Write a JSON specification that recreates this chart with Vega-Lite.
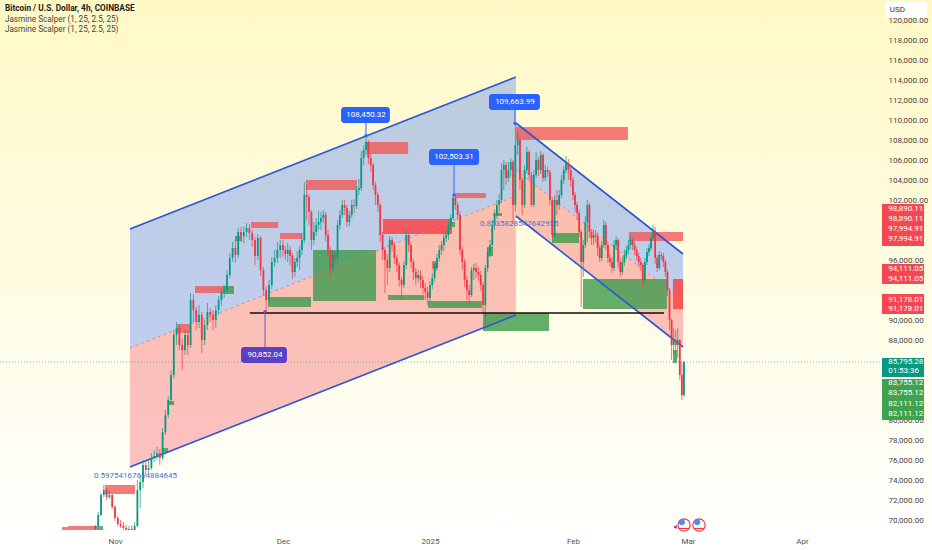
{
  "$schema": "https://vega.github.io/schema/vega-lite/v6.json",
  "width": 932,
  "height": 550,
  "padding": 0,
  "autosize": {"type": "none"},
  "view": {
    "stroke": null,
    "fill": {"gradient": "linear", "x1": 0, "y1": 0, "x2": 0, "y2": 1, "stops": [{"offset": 0, "color": "#fff9c6"}, {"offset": 1, "color": "#ffffff"}]}
  },
  "config": {"font": "Roboto", "axis": {"labelOverlap": false}},
  "resolve": {"scale": {"color": "independent"}},
  "datasets": {
    "candles": [
{"t":"2024-10-28T12:00","o":69100,"h":69500,"l":69000,"c":69400},
{"t":"2024-10-29T00:00","o":69400,"h":70800,"l":69300,"c":70500},
{"t":"2024-10-29T12:00","o":70500,"h":72700,"l":70400,"c":72500},
{"t":"2024-10-30T00:00","o":72500,"h":73500,"l":72300,"c":73000},
{"t":"2024-10-30T12:00","o":73000,"h":73200,"l":72000,"c":72300},
{"t":"2024-10-31T00:00","o":72300,"h":72900,"l":72100,"c":72500},
{"t":"2024-10-31T12:00","o":72500,"h":72600,"l":71100,"c":71300},
{"t":"2024-11-01T00:00","o":71300,"h":71500,"l":69900,"c":70200},
{"t":"2024-11-01T12:00","o":70200,"h":70400,"l":69400,"c":69600},
{"t":"2024-11-02T00:00","o":69600,"h":70000,"l":69200,"c":69400},
{"t":"2024-11-02T12:00","o":69400,"h":69800,"l":69000,"c":69200},
{"t":"2024-11-03T00:00","o":69200,"h":69500,"l":69000,"c":69000},
{"t":"2024-11-03T12:00","o":69000,"h":69400,"l":69000,"c":69100},
{"t":"2024-11-04T00:00","o":69100,"h":69500,"l":69000,"c":69000},
{"t":"2024-11-04T12:00","o":69000,"h":69800,"l":69000,"c":69400},
{"t":"2024-11-05T00:00","o":69400,"h":74000,"l":69300,"c":73000},
{"t":"2024-11-05T12:00","o":73000,"h":74500,"l":71200,"c":73800},
{"t":"2024-11-06T00:00","o":73800,"h":76000,"l":73200,"c":75500},
{"t":"2024-11-06T12:00","o":75500,"h":75900,"l":74500,"c":75000},
{"t":"2024-11-07T00:00","o":75000,"h":76100,"l":74700,"c":75200},
{"t":"2024-11-07T12:00","o":75200,"h":76700,"l":75000,"c":76200},
{"t":"2024-11-08T00:00","o":76200,"h":77000,"l":75800,"c":76400},
{"t":"2024-11-08T12:00","o":76400,"h":77300,"l":76000,"c":76700},
{"t":"2024-11-09T00:00","o":76700,"h":77100,"l":75500,"c":76200},
{"t":"2024-11-09T12:00","o":76200,"h":79200,"l":76000,"c":78800},
{"t":"2024-11-10T00:00","o":78800,"h":81000,"l":78500,"c":80500},
{"t":"2024-11-10T12:00","o":80500,"h":82400,"l":80200,"c":82000},
{"t":"2024-11-11T00:00","o":82000,"h":85000,"l":81600,"c":84500},
{"t":"2024-11-11T12:00","o":84500,"h":89000,"l":84200,"c":88500},
{"t":"2024-11-12T00:00","o":88500,"h":89800,"l":87500,"c":89200},
{"t":"2024-11-12T12:00","o":89200,"h":89600,"l":87000,"c":87500},
{"t":"2024-11-13T00:00","o":87500,"h":88200,"l":85000,"c":87000},
{"t":"2024-11-13T12:00","o":87000,"h":89000,"l":86500,"c":88500},
{"t":"2024-11-14T00:00","o":88500,"h":88900,"l":86500,"c":87500},
{"t":"2024-11-14T12:00","o":87500,"h":92700,"l":87200,"c":92000},
{"t":"2024-11-15T00:00","o":92000,"h":92600,"l":89800,"c":91000},
{"t":"2024-11-15T12:00","o":91000,"h":91300,"l":89000,"c":89800},
{"t":"2024-11-16T00:00","o":89800,"h":91500,"l":89200,"c":90500},
{"t":"2024-11-16T12:00","o":90500,"h":90800,"l":86700,"c":88000},
{"t":"2024-11-17T00:00","o":88000,"h":90000,"l":87500,"c":89500},
{"t":"2024-11-17T12:00","o":89500,"h":91700,"l":89000,"c":90800},
{"t":"2024-11-18T00:00","o":90800,"h":91200,"l":89800,"c":90500},
{"t":"2024-11-18T12:00","o":90500,"h":91000,"l":89000,"c":90000},
{"t":"2024-11-19T00:00","o":90000,"h":91500,"l":89200,"c":91000},
{"t":"2024-11-19T12:00","o":91000,"h":92400,"l":90500,"c":92000},
{"t":"2024-11-20T00:00","o":92000,"h":93200,"l":91400,"c":92800},
{"t":"2024-11-20T12:00","o":92800,"h":93500,"l":92200,"c":93000},
{"t":"2024-11-21T00:00","o":93000,"h":95000,"l":92700,"c":94500},
{"t":"2024-11-21T12:00","o":94500,"h":96700,"l":94200,"c":96200},
{"t":"2024-11-22T00:00","o":96200,"h":97800,"l":95800,"c":97200},
{"t":"2024-11-22T12:00","o":97200,"h":98000,"l":95700,"c":96500},
{"t":"2024-11-23T00:00","o":96500,"h":99200,"l":96200,"c":98800},
{"t":"2024-11-23T12:00","o":98800,"h":99300,"l":97800,"c":98400},
{"t":"2024-11-24T00:00","o":98400,"h":99400,"l":97700,"c":98800},
{"t":"2024-11-24T12:00","o":98800,"h":99700,"l":98300,"c":99200},
{"t":"2024-11-25T00:00","o":99200,"h":99600,"l":98000,"c":98700},
{"t":"2024-11-25T12:00","o":98700,"h":99000,"l":97300,"c":98000},
{"t":"2024-11-26T00:00","o":98000,"h":98300,"l":95500,"c":96400},
{"t":"2024-11-26T12:00","o":96400,"h":98600,"l":96000,"c":98200},
{"t":"2024-11-27T00:00","o":98200,"h":98400,"l":94400,"c":95000},
{"t":"2024-11-27T12:00","o":95000,"h":95300,"l":92400,"c":93000},
{"t":"2024-11-28T00:00","o":93000,"h":93400,"l":90852,"c":92000},
{"t":"2024-11-28T12:00","o":92000,"h":94000,"l":91500,"c":93500},
{"t":"2024-11-29T00:00","o":93500,"h":96300,"l":93100,"c":95800},
{"t":"2024-11-29T12:00","o":95800,"h":97000,"l":95300,"c":96200},
{"t":"2024-11-30T00:00","o":96200,"h":97800,"l":95700,"c":97000},
{"t":"2024-11-30T12:00","o":97000,"h":98000,"l":96200,"c":97500},
{"t":"2024-12-01T00:00","o":97500,"h":98000,"l":96300,"c":97000},
{"t":"2024-12-01T12:00","o":97000,"h":97400,"l":96000,"c":96600},
{"t":"2024-12-02T00:00","o":96600,"h":97700,"l":95800,"c":97000},
{"t":"2024-12-02T12:00","o":97000,"h":97400,"l":95500,"c":96400},
{"t":"2024-12-03T00:00","o":96400,"h":96700,"l":94100,"c":94800},
{"t":"2024-12-03T12:00","o":94800,"h":96200,"l":94300,"c":95800},
{"t":"2024-12-04T00:00","o":95800,"h":96900,"l":95300,"c":96200},
{"t":"2024-12-04T12:00","o":96200,"h":97400,"l":95000,"c":97000},
{"t":"2024-12-05T00:00","o":97000,"h":98700,"l":96500,"c":98000},
{"t":"2024-12-05T12:00","o":98000,"h":103800,"l":97700,"c":102500},
{"t":"2024-12-06T00:00","o":102500,"h":103600,"l":100000,"c":102300},
{"t":"2024-12-06T12:00","o":102300,"h":102600,"l":99500,"c":100800},
{"t":"2024-12-07T00:00","o":100800,"h":101000,"l":97000,"c":98000},
{"t":"2024-12-07T12:00","o":98000,"h":99800,"l":97500,"c":98800},
{"t":"2024-12-08T00:00","o":98800,"h":100200,"l":98400,"c":99500},
{"t":"2024-12-08T12:00","o":99500,"h":100900,"l":99000,"c":99800},
{"t":"2024-12-09T00:00","o":99800,"h":100800,"l":99000,"c":100200},
{"t":"2024-12-09T12:00","o":100200,"h":101000,"l":99700,"c":100500},
{"t":"2024-12-10T00:00","o":100500,"h":100800,"l":97900,"c":98500},
{"t":"2024-12-10T12:00","o":98500,"h":99000,"l":96300,"c":97000},
{"t":"2024-12-11T00:00","o":97000,"h":97300,"l":94300,"c":95200},
{"t":"2024-12-11T12:00","o":95200,"h":97000,"l":94700,"c":96500},
{"t":"2024-12-12T00:00","o":96500,"h":96900,"l":95500,"c":96200},
{"t":"2024-12-12T12:00","o":96200,"h":100000,"l":95900,"c":99500},
{"t":"2024-12-13T00:00","o":99500,"h":101000,"l":99000,"c":100500},
{"t":"2024-12-13T12:00","o":100500,"h":102000,"l":100200,"c":101500},
{"t":"2024-12-14T00:00","o":101500,"h":102000,"l":100500,"c":101200},
{"t":"2024-12-14T12:00","o":101200,"h":101500,"l":99300,"c":99800},
{"t":"2024-12-15T00:00","o":99800,"h":100900,"l":99400,"c":100500},
{"t":"2024-12-15T12:00","o":100500,"h":102000,"l":100200,"c":101500},
{"t":"2024-12-16T00:00","o":101500,"h":102100,"l":100700,"c":101400},
{"t":"2024-12-16T12:00","o":101400,"h":103400,"l":101100,"c":103000},
{"t":"2024-12-17T00:00","o":103000,"h":104100,"l":102500,"c":103200},
{"t":"2024-12-17T12:00","o":103200,"h":106900,"l":102900,"c":106200},
{"t":"2024-12-18T00:00","o":106200,"h":107500,"l":105500,"c":107000},
{"t":"2024-12-18T12:00","o":107000,"h":108450,"l":106500,"c":107800},
{"t":"2024-12-19T00:00","o":107800,"h":108000,"l":105600,"c":106200},
{"t":"2024-12-19T12:00","o":106200,"h":106600,"l":104800,"c":105500},
{"t":"2024-12-20T00:00","o":105500,"h":105700,"l":103000,"c":103500},
{"t":"2024-12-20T12:00","o":103500,"h":103800,"l":101500,"c":102500},
{"t":"2024-12-21T00:00","o":102500,"h":102800,"l":100800,"c":101500},
{"t":"2024-12-21T12:00","o":101500,"h":101700,"l":97800,"c":98500},
{"t":"2024-12-22T00:00","o":98500,"h":98800,"l":96000,"c":97000},
{"t":"2024-12-22T12:00","o":97000,"h":97300,"l":92700,"c":96000},
{"t":"2024-12-23T00:00","o":96000,"h":96600,"l":93500,"c":95200},
{"t":"2024-12-23T12:00","o":95200,"h":98400,"l":94800,"c":98000},
{"t":"2024-12-24T00:00","o":98000,"h":98300,"l":96800,"c":97500},
{"t":"2024-12-24T12:00","o":97500,"h":97800,"l":95600,"c":96200},
{"t":"2024-12-25T00:00","o":96200,"h":96500,"l":94800,"c":95500},
{"t":"2024-12-25T12:00","o":95500,"h":95800,"l":93300,"c":94000},
{"t":"2024-12-26T00:00","o":94000,"h":94300,"l":92000,"c":93500},
{"t":"2024-12-26T12:00","o":93500,"h":95900,"l":93200,"c":95500},
{"t":"2024-12-27T00:00","o":95500,"h":99000,"l":95100,"c":98500},
{"t":"2024-12-27T12:00","o":98500,"h":98900,"l":96800,"c":97500},
{"t":"2024-12-28T00:00","o":97500,"h":97800,"l":95200,"c":95800},
{"t":"2024-12-28T12:00","o":95800,"h":96100,"l":94000,"c":94800},
{"t":"2024-12-29T00:00","o":94800,"h":95200,"l":93500,"c":94200},
{"t":"2024-12-29T12:00","o":94200,"h":95000,"l":93700,"c":94500},
{"t":"2024-12-30T00:00","o":94500,"h":95000,"l":93200,"c":94000},
{"t":"2024-12-30T12:00","o":94000,"h":94400,"l":92600,"c":93200},
{"t":"2024-12-31T00:00","o":93200,"h":93700,"l":92000,"c":92800},
{"t":"2024-12-31T12:00","o":92800,"h":93300,"l":91500,"c":92200},
{"t":"2025-01-01T00:00","o":92200,"h":93900,"l":91800,"c":93500},
{"t":"2025-01-01T12:00","o":93500,"h":94700,"l":93100,"c":94200},
{"t":"2025-01-02T00:00","o":94200,"h":95600,"l":93800,"c":95200},
{"t":"2025-01-02T12:00","o":95200,"h":96600,"l":94900,"c":96200},
{"t":"2025-01-03T00:00","o":96200,"h":97500,"l":95800,"c":97000},
{"t":"2025-01-03T12:00","o":97000,"h":97900,"l":96500,"c":97500},
{"t":"2025-01-04T00:00","o":97500,"h":98800,"l":96900,"c":98200},
{"t":"2025-01-04T12:00","o":98200,"h":99000,"l":97800,"c":98500},
{"t":"2025-01-05T00:00","o":98500,"h":99800,"l":98000,"c":99400},
{"t":"2025-01-05T12:00","o":99400,"h":100600,"l":99000,"c":100200},
{"t":"2025-01-06T00:00","o":100200,"h":102503,"l":100000,"c":102200},
{"t":"2025-01-06T12:00","o":102200,"h":102400,"l":101000,"c":101500},
{"t":"2025-01-07T00:00","o":101500,"h":101800,"l":100000,"c":100500},
{"t":"2025-01-07T12:00","o":100500,"h":100800,"l":96500,"c":97000},
{"t":"2025-01-08T00:00","o":97000,"h":97300,"l":95000,"c":95800},
{"t":"2025-01-08T12:00","o":95800,"h":96100,"l":93300,"c":94000},
{"t":"2025-01-09T00:00","o":94000,"h":94400,"l":92000,"c":93000},
{"t":"2025-01-09T12:00","o":93000,"h":93500,"l":91500,"c":92500},
{"t":"2025-01-10T00:00","o":92500,"h":95300,"l":92300,"c":95000},
{"t":"2025-01-10T12:00","o":95000,"h":95600,"l":94000,"c":95200},
{"t":"2025-01-11T00:00","o":95200,"h":95700,"l":94200,"c":94800},
{"t":"2025-01-11T12:00","o":94800,"h":95300,"l":93900,"c":94500},
{"t":"2025-01-12T00:00","o":94500,"h":94900,"l":92900,"c":93500},
{"t":"2025-01-12T12:00","o":93500,"h":93800,"l":90700,"c":91500},
{"t":"2025-01-13T00:00","o":91500,"h":95500,"l":89500,"c":95200},
{"t":"2025-01-13T12:00","o":95200,"h":97200,"l":94800,"c":96800},
{"t":"2025-01-14T00:00","o":96800,"h":98000,"l":96300,"c":97500},
{"t":"2025-01-14T12:00","o":97500,"h":100000,"l":97200,"c":99500},
{"t":"2025-01-15T00:00","o":99500,"h":101000,"l":99000,"c":100500},
{"t":"2025-01-15T12:00","o":100500,"h":102000,"l":100100,"c":101500},
{"t":"2025-01-16T00:00","o":101500,"h":102600,"l":100800,"c":102000},
{"t":"2025-01-16T12:00","o":102000,"h":105700,"l":101700,"c":105000},
{"t":"2025-01-17T00:00","o":105000,"h":106000,"l":103000,"c":105500},
{"t":"2025-01-17T12:00","o":105500,"h":105800,"l":103500,"c":104200},
{"t":"2025-01-18T00:00","o":104200,"h":105800,"l":103800,"c":105000},
{"t":"2025-01-18T12:00","o":105000,"h":106200,"l":104300,"c":105800},
{"t":"2025-01-19T00:00","o":105800,"h":106000,"l":99600,"c":101500},
{"t":"2025-01-19T12:00","o":101500,"h":109664,"l":100900,"c":107500},
{"t":"2025-01-20T00:00","o":107500,"h":109000,"l":106500,"c":108000},
{"t":"2025-01-20T12:00","o":108000,"h":108300,"l":103000,"c":104000},
{"t":"2025-01-21T00:00","o":104000,"h":104300,"l":100500,"c":101500},
{"t":"2025-01-21T12:00","o":101500,"h":105500,"l":101200,"c":105000},
{"t":"2025-01-22T00:00","o":105000,"h":107300,"l":104600,"c":106800},
{"t":"2025-01-22T12:00","o":106800,"h":107000,"l":103900,"c":104500},
{"t":"2025-01-23T00:00","o":104500,"h":104800,"l":101300,"c":101500},
{"t":"2025-01-23T12:00","o":101500,"h":105000,"l":101300,"c":104500},
{"t":"2025-01-24T00:00","o":104500,"h":106800,"l":104200,"c":106000},
{"t":"2025-01-24T12:00","o":106000,"h":106300,"l":104400,"c":105000},
{"t":"2025-01-25T00:00","o":105000,"h":106900,"l":104600,"c":106500},
{"t":"2025-01-25T12:00","o":106500,"h":106700,"l":103800,"c":104200},
{"t":"2025-01-26T00:00","o":104200,"h":105500,"l":103900,"c":105000},
{"t":"2025-01-26T12:00","o":105000,"h":105300,"l":104300,"c":104800},
{"t":"2025-01-27T00:00","o":104800,"h":105000,"l":101500,"c":102000},
{"t":"2025-01-27T12:00","o":102000,"h":102300,"l":98300,"c":98500},
{"t":"2025-01-28T00:00","o":98500,"h":102500,"l":98200,"c":102000},
{"t":"2025-01-28T12:00","o":102000,"h":103000,"l":100500,"c":101500},
{"t":"2025-01-29T00:00","o":101500,"h":103000,"l":101000,"c":102500},
{"t":"2025-01-29T12:00","o":102500,"h":104500,"l":102200,"c":104000},
{"t":"2025-01-30T00:00","o":104000,"h":105400,"l":103600,"c":105000},
{"t":"2025-01-30T12:00","o":105000,"h":106400,"l":104700,"c":105700},
{"t":"2025-01-31T00:00","o":105700,"h":106100,"l":104000,"c":105000},
{"t":"2025-01-31T12:00","o":105000,"h":105300,"l":103300,"c":104000},
{"t":"2025-02-01T00:00","o":104000,"h":104300,"l":102000,"c":102500},
{"t":"2025-02-01T12:00","o":102500,"h":102800,"l":100800,"c":101500},
{"t":"2025-02-02T00:00","o":101500,"h":101800,"l":100000,"c":100700},
{"t":"2025-02-02T12:00","o":100700,"h":101000,"l":98300,"c":98800},
{"t":"2025-02-03T00:00","o":98800,"h":99000,"l":91300,"c":95800},
{"t":"2025-02-03T12:00","o":95800,"h":98000,"l":94300,"c":97500},
{"t":"2025-02-04T00:00","o":97500,"h":100400,"l":97200,"c":99800},
{"t":"2025-02-04T12:00","o":99800,"h":102000,"l":97800,"c":101500},
{"t":"2025-02-05T00:00","o":101500,"h":101700,"l":98200,"c":98800},
{"t":"2025-02-05T12:00","o":98800,"h":99100,"l":97500,"c":98200},
{"t":"2025-02-06T00:00","o":98200,"h":99000,"l":97500,"c":98500},
{"t":"2025-02-06T12:00","o":98500,"h":99000,"l":97700,"c":98400},
{"t":"2025-02-07T00:00","o":98400,"h":98700,"l":96400,"c":97200},
{"t":"2025-02-07T12:00","o":97200,"h":97500,"l":95800,"c":96200},
{"t":"2025-02-08T00:00","o":96200,"h":97900,"l":95900,"c":97500},
{"t":"2025-02-08T12:00","o":97500,"h":100000,"l":97200,"c":99500},
{"t":"2025-02-09T00:00","o":99500,"h":99800,"l":97000,"c":97500},
{"t":"2025-02-09T12:00","o":97500,"h":97800,"l":95700,"c":96200},
{"t":"2025-02-10T00:00","o":96200,"h":96600,"l":95400,"c":95800},
{"t":"2025-02-10T12:00","o":95800,"h":96200,"l":94700,"c":95200},
{"t":"2025-02-11T00:00","o":95200,"h":98000,"l":94900,"c":97500},
{"t":"2025-02-11T12:00","o":97500,"h":98400,"l":97000,"c":98000},
{"t":"2025-02-12T00:00","o":98000,"h":98200,"l":95200,"c":95800},
{"t":"2025-02-12T12:00","o":95800,"h":96100,"l":94300,"c":94800},
{"t":"2025-02-13T00:00","o":94800,"h":96300,"l":94500,"c":95800},
{"t":"2025-02-13T12:00","o":95800,"h":97000,"l":95400,"c":96500},
{"t":"2025-02-14T00:00","o":96500,"h":97400,"l":96100,"c":97000},
{"t":"2025-02-14T12:00","o":97000,"h":98000,"l":96600,"c":97500},
{"t":"2025-02-15T00:00","o":97500,"h":98400,"l":97100,"c":98000},
{"t":"2025-02-15T12:00","o":98000,"h":98200,"l":97000,"c":97500},
{"t":"2025-02-16T00:00","o":97500,"h":97800,"l":96500,"c":97000},
{"t":"2025-02-16T12:00","o":97000,"h":97300,"l":95900,"c":96400},
{"t":"2025-02-17T00:00","o":96400,"h":96700,"l":95300,"c":95800},
{"t":"2025-02-17T12:00","o":95800,"h":96200,"l":94900,"c":95500},
{"t":"2025-02-18T00:00","o":95500,"h":95700,"l":93300,"c":94000},
{"t":"2025-02-18T12:00","o":94000,"h":96200,"l":93700,"c":95800},
{"t":"2025-02-19T00:00","o":95800,"h":97200,"l":95500,"c":96800},
{"t":"2025-02-19T12:00","o":96800,"h":97600,"l":96400,"c":97200},
{"t":"2025-02-20T00:00","o":97200,"h":98600,"l":96900,"c":98200},
{"t":"2025-02-20T12:00","o":98200,"h":99500,"l":97900,"c":98800},
{"t":"2025-02-21T00:00","o":98800,"h":99300,"l":95600,"c":96200},
{"t":"2025-02-21T12:00","o":96200,"h":96500,"l":94800,"c":95200},
{"t":"2025-02-22T00:00","o":95200,"h":96900,"l":95000,"c":96500},
{"t":"2025-02-22T12:00","o":96500,"h":96800,"l":96000,"c":96400},
{"t":"2025-02-23T00:00","o":96400,"h":96700,"l":95300,"c":95800},
{"t":"2025-02-23T12:00","o":95800,"h":96000,"l":94300,"c":94800},
{"t":"2025-02-24T00:00","o":94800,"h":95000,"l":92400,"c":93000},
{"t":"2025-02-24T12:00","o":93000,"h":93200,"l":89000,"c":90000},
{"t":"2025-02-25T00:00","o":90000,"h":90100,"l":86000,"c":87500},
{"t":"2025-02-25T12:00","o":87500,"h":89200,"l":86500,"c":88000},
{"t":"2025-02-26T00:00","o":88000,"h":89000,"l":86000,"c":87500},
{"t":"2025-02-26T12:00","o":87500,"h":89200,"l":86200,"c":88000},
{"t":"2025-02-27T00:00","o":88000,"h":88100,"l":84000,"c":84500},
{"t":"2025-02-27T12:00","o":84500,"h":85800,"l":82000,"c":82500},
{"t":"2025-02-28T00:00","o":82500,"h":85900,"l":82300,"c":85795}
    ],
    "zones": [
{"kind":"red","t1":"2024-10-22T13:00","t2":"2024-10-23T15:00","p1":69300,"p2":69000},
{"kind":"red","t1":"2024-10-23T15:00","t2":"2024-10-28T19:00","p1":69400,"p2":69000},
{"kind":"red","t1":"2024-10-30T05:00","t2":"2024-11-04T14:00","p1":73500,"p2":72600},
{"kind":"red","t1":"2024-11-12T02:00","t2":"2024-11-14T09:00","p1":89600,"p2":88700},
{"kind":"red","t1":"2024-11-15T07:00","t2":"2024-11-20T07:00","p1":93400,"p2":92700},
{"kind":"red","t1":"2024-11-25T07:00","t2":"2024-11-30T03:00","p1":99800,"p2":99200},
{"kind":"red","t1":"2024-11-30T11:00","t2":"2024-12-05T00:00","p1":98700,"p2":98100},
{"kind":"red","t1":"2024-12-05T20:00","t2":"2024-12-16T14:00","p1":104000,"p2":103000},
{"kind":"red","t1":"2024-12-18T17:00","t2":"2024-12-27T09:00","p1":107800,"p2":106600},
{"kind":"bright","t1":"2024-12-22T02:00","t2":"2025-01-05T18:00","p1":100100,"p2":98600},
{"kind":"red","t1":"2025-01-06T10:00","t2":"2025-01-13T03:00","p1":102700,"p2":102200},
{"kind":"red","t1":"2025-01-19T15:00","t2":"2025-02-14T09:00","p1":109300,"p2":108000},
{"kind":"red","t1":"2025-02-14T15:00","t2":"2025-02-27T19:00","p1":98800,"p2":97900},
{"kind":"bright","t1":"2025-02-25T08:00","t2":"2025-02-27T19:00","p1":94100,"p2":91100},
{"kind":"red","t1":"2025-01-01T10:00","t2":"2025-01-02T12:00","p1":95900,"p2":95100},
{"kind":"red","t1":"2025-01-14T16:00","t2":"2025-01-15T12:00","p1":100700,"p2":100400},
{"kind":"green","t1":"2024-10-28T19:00","t2":"2024-10-29T21:00","p1":69400,"p2":69000},
{"kind":"green","t1":"2024-11-10T11:00","t2":"2024-11-11T13:00","p1":81900,"p2":81500},
{"kind":"green","t1":"2024-11-09T09:00","t2":"2024-11-10T11:00","p1":77200,"p2":76800},
{"kind":"green","t1":"2024-11-20T07:00","t2":"2024-11-22T06:00","p1":93400,"p2":92600},
{"kind":"green","t1":"2024-11-22T10:00","t2":"2024-11-23T16:00","p1":98400,"p2":97900},
{"kind":"green","t1":"2024-11-28T08:00","t2":"2024-12-06T22:00","p1":92300,"p2":91300},
{"kind":"green","t1":"2024-12-07T08:00","t2":"2024-12-20T15:00","p1":97000,"p2":91900},
{"kind":"green","t1":"2024-12-23T03:00","t2":"2024-12-30T18:00","p1":92500,"p2":92000},
{"kind":"green","t1":"2024-12-31T14:00","t2":"2025-01-12T06:00","p1":91900,"p2":91200},
{"kind":"green","t1":"2025-01-12T12:00","t2":"2025-01-26T19:00","p1":90700,"p2":88900},
{"kind":"green","t1":"2025-01-05T18:00","t2":"2025-01-06T10:00","p1":99800,"p2":99300},
{"kind":"green","t1":"2025-01-13T09:00","t2":"2025-01-14T16:00","p1":97300,"p2":96400},
{"kind":"green","t1":"2025-01-27T11:00","t2":"2025-02-02T11:00","p1":98700,"p2":97700},
{"kind":"green","t1":"2025-02-03T10:00","t2":"2025-02-23T21:00","p1":94100,"p2":91100},
{"kind":"green","t1":"2025-01-15T12:00","t2":"2025-01-16T14:00","p1":100700,"p2":100400},
{"kind":"green","t1":"2025-02-25T08:00","t2":"2025-02-26T08:00","p1":87000,"p2":85700},
{"kind":"green","t1":"2025-01-01T16:00","t2":"2025-01-02T18:00","p1":95700,"p2":95200}
    ],
    "channels": [
{"ch":"upA","kind":"blue","t":"2024-11-03T16:00","p1":99100,"p2":87200},
{"ch":"upA","kind":"blue","t":"2025-01-19T15:00","p1":114300,"p2":102400},
{"ch":"upB","kind":"red","t":"2024-11-03T16:00","p1":87200,"p2":75300},
{"ch":"upB","kind":"red","t":"2025-01-19T15:00","p1":102400,"p2":90500},
{"ch":"dnA","kind":"blue","t":"2025-01-19T15:00","p1":109700,"p2":105000},
{"ch":"dnA","kind":"blue","t":"2025-02-27T19:00","p1":96600,"p2":91900},
{"ch":"dnB","kind":"red","t":"2025-01-19T15:00","p1":105000,"p2":100400},
{"ch":"dnB","kind":"red","t":"2025-02-27T19:00","p1":91900,"p2":87300}
    ],
    "chlines": [
{"s":"up1","part":"edge","t":"2024-11-03T16:00","p":99100},
{"s":"up1","part":"edge","t":"2025-01-19T15:00","p":114300},
{"s":"up3","part":"edge","t":"2024-11-03T16:00","p":75300},
{"s":"up3","part":"edge","t":"2025-01-19T15:00","p":90500},
{"s":"dn1","part":"edge","t":"2025-01-19T15:00","p":109700},
{"s":"dn1","part":"edge","t":"2025-02-27T19:00","p":96600},
{"s":"dn3","part":"edge","t":"2025-01-19T15:00","p":100400},
{"s":"dn3","part":"edge","t":"2025-02-27T19:00","p":87300},
{"s":"up2","part":"mid","t":"2024-11-03T16:00","p":87200},
{"s":"up2","part":"mid","t":"2025-01-19T15:00","p":102400},
{"s":"dn2","part":"mid","t":"2025-01-19T15:00","p":105000},
{"s":"dn2","part":"mid","t":"2025-02-27T19:00","p":91900}
    ],
    "callouts": [
{"kind":"blue","label":"108,450.32","t1":"2024-12-13T06:00","t2":"2024-12-23T13:00","tm":"2024-12-18T12:00","p1":111300,"p2":109700,"pm":110500,"edge":109700,"tip":108450},
{"kind":"blue","label":"102,503.31","t1":"2024-12-31T19:00","t2":"2025-01-11T15:00","tm":"2025-01-06T05:00","p1":107100,"p2":105500,"pm":106300,"edge":105500,"tip":102503},
{"kind":"blue","label":"109,663.99","t1":"2025-01-13T19:00","t2":"2025-01-24T20:00","tm":"2025-01-19T10:00","p1":112600,"p2":111000,"pm":111800,"edge":111000,"tip":109664},
{"kind":"purple","label":"90,852.04","t1":"2024-11-23T12:00","t2":"2024-12-01T20:00","tm":"2024-11-27T19:00","p1":87300,"p2":85700,"pm":86500,"edge":87300,"tip":90852}
    ],
    "tagboxes": [
{"kind":"red","t1":"2025-04-22T18:00","t2":"2025-05-04T04:00","p1":101600,"p2":97400},
{"kind":"red","t1":"2025-04-22T18:00","t2":"2025-05-04T04:00","p1":95600,"p2":93600},
{"kind":"red","t1":"2025-04-22T18:00","t2":"2025-05-04T04:00","p1":92600,"p2":90600},
{"kind":"teal","t1":"2025-04-22T18:00","t2":"2025-05-04T04:00","p1":86200,"p2":84300},
{"kind":"green","t1":"2025-04-22T18:00","t2":"2025-05-04T04:00","p1":84100,"p2":80000}
    ],
    "taglabels": [
{"t":"2025-04-24T10:00","p":101100,"label":"98,890.11"},
{"t":"2025-04-24T10:00","p":100100,"label":"98,890.11"},
{"t":"2025-04-24T10:00","p":99100,"label":"97,994.91"},
{"t":"2025-04-24T10:00","p":98100,"label":"97,994.91"},
{"t":"2025-04-24T10:00","p":95100,"label":"94,111.05"},
{"t":"2025-04-24T10:00","p":94100,"label":"94,111.05"},
{"t":"2025-04-24T10:00","p":92000,"label":"91,178.01"},
{"t":"2025-04-24T10:00","p":91100,"label":"91,178.01"},
{"t":"2025-04-24T10:00","p":85800,"label":"85,795.28"},
{"t":"2025-04-24T10:00","p":84900,"label":"01:53:36"},
{"t":"2025-04-24T10:00","p":83700,"label":"83,755.12"},
{"t":"2025-04-24T10:00","p":82700,"label":"83,755.12"},
{"t":"2025-04-24T10:00","p":81600,"label":"82,111.12"},
{"t":"2025-04-24T10:00","p":80600,"label":"82,111.12"}
    ]
  },
  "encoding": {
    "x": {
      "type": "temporal",
      "title": null,
      "scale": {
        "type": "time",
        "domainRaw": {"expr": "[datetime(2024,9,11,11), datetime(2024,10,1), datetime(2024,11,1), datetime(2025,0,1), datetime(2025,1,1), datetime(2025,2,1), datetime(2025,3,1), datetime(2025,4,6,8)]"},
        "range": [0, 115, 283, 430, 573, 688, 802, 932],
        "nice": false
      },
      "axis": {
        "orient": "bottom",
        "offset": -20,
        "domain": false,
        "ticks": false,
        "grid": false,
        "labelPadding": 7,
        "labelFontSize": 8,
        "labelColor": "#555555",
        "labelOverlap": false,
        "labelFlush": false,
        "values": [
          {"year": 2024, "month": "nov", "date": 1},
          {"year": 2024, "month": "dec", "date": 1},
          {"year": 2025, "month": "jan", "date": 1},
          {"year": 2025, "month": "feb", "date": 1},
          {"year": 2025, "month": "mar", "date": 1},
          {"year": 2025, "month": "apr", "date": 1}
        ],
        "labelExpr": "month(datum.value) == 0 ? '2025' : timeFormat(datum.value, '%b')"
      }
    },
    "y": {
      "type": "quantitative",
      "title": null,
      "scale": {"domain": [69000, 122000], "range": [530, 0], "nice": false, "zero": false},
      "axis": {
        "orient": "right",
        "offset": -50,
        "domain": false,
        "ticks": false,
        "grid": false,
        "labelPadding": 6,
        "labelFontSize": 8,
        "labelColor": "#444444",
        "labelAlign": "left",
        "labelOverlap": false,
        "format": ",.2f",
        "values": [70000, 72000, 74000, 76000, 78000, 80000, 88000, 90000, 96000, 102000, 104000, 106000, 108000, 110000, 112000, 114000, 116000, 118000, 120000]
      }
    }
  },
  "layer": [
    {
      "data": {"name": "channels"},
      "mark": {"type": "area", "fillOpacity": 0.3, "line": false},
      "encoding": {
        "x": {"field": "t", "type": "temporal"},
        "y": {"field": "p1", "type": "quantitative"},
        "y2": {"field": "p2"},
        "detail": {"field": "ch"},
        "color": {"field": "kind", "type": "nominal", "scale": {"domain": ["blue", "red"], "range": ["#2962ff", "#f23645"]}, "legend": null}
      }
    },
    {
      "data": {"name": "zones"},
      "mark": {"type": "rect", "opacity": 0.8},
      "encoding": {
        "x": {"field": "t1", "type": "temporal"},
        "x2": {"field": "t2"},
        "y": {"field": "p1", "type": "quantitative"},
        "y2": {"field": "p2"},
        "color": {"field": "kind", "type": "nominal", "scale": {"domain": ["red", "bright", "green"], "range": ["#f25a5a", "#ff3b3b", "#3d9a4b"]}, "legend": null}
      }
    },
    {
      "data": {"name": "chlines"},
      "transform": [{"filter": "datum.part == 'edge'"}],
      "mark": {"type": "line", "color": "#2b57d6", "strokeWidth": 1.6},
      "encoding": {
        "x": {"field": "t", "type": "temporal"},
        "y": {"field": "p", "type": "quantitative"},
        "detail": {"field": "s"}
      }
    },
    {
      "data": {"name": "chlines"},
      "transform": [{"filter": "datum.part == 'mid'"}],
      "mark": {"type": "line", "color": "#e0708a", "strokeWidth": 0.8, "strokeDash": [3, 3]},
      "encoding": {
        "x": {"field": "t", "type": "temporal"},
        "y": {"field": "p", "type": "quantitative"},
        "detail": {"field": "s"}
      }
    },
    {
      "data": {"values": [{"t1": "2024-10-11T11:00", "t2": "2025-04-22T18:00", "p": 85795}]},
      "mark": {"type": "rule", "color": "#089981", "strokeWidth": 0.8, "strokeDash": [1, 2], "opacity": 0.75},
      "encoding": {
        "x": {"field": "t1", "type": "temporal"},
        "x2": {"field": "t2"},
        "y": {"field": "p", "type": "quantitative"}
      }
    },
    {
      "data": {"name": "candles"},
      "mark": {"type": "rule", "strokeWidth": 0.7},
      "encoding": {
        "x": {"field": "t", "type": "temporal"},
        "y": {"field": "l", "type": "quantitative"},
        "y2": {"field": "h"},
        "color": {"condition": {"test": "datum.c >= datum.o", "value": "#089981"}, "value": "#f23645"}
      }
    },
    {
      "data": {"name": "candles"},
      "mark": {"type": "rule", "strokeWidth": 1.8},
      "encoding": {
        "x": {"field": "t", "type": "temporal"},
        "y": {"field": "o", "type": "quantitative"},
        "y2": {"field": "c"},
        "color": {"condition": {"test": "datum.c >= datum.o", "value": "#089981"}, "value": "#f23645"}
      }
    },
    {
      "data": {"values": [{"t1": "2024-11-25T02:00", "t2": "2025-02-23T04:00", "p": 90700}]},
      "mark": {"type": "rule", "color": "#1a0a0a", "strokeWidth": 1.6},
      "encoding": {
        "x": {"field": "t1", "type": "temporal"},
        "x2": {"field": "t2"},
        "y": {"field": "p", "type": "quantitative"}
      }
    },
    {
      "data": {"name": "callouts"},
      "mark": {"type": "rule", "strokeWidth": 1},
      "encoding": {
        "x": {"field": "tm", "type": "temporal"},
        "y": {"field": "edge", "type": "quantitative"},
        "y2": {"field": "tip"},
        "color": {"field": "kind", "type": "nominal", "scale": {"domain": ["blue", "purple"], "range": ["#2962ff", "#6a56c8"]}, "legend": null}
      }
    },
    {
      "data": {"name": "callouts"},
      "mark": {"type": "point", "filled": true, "size": 10, "opacity": 1},
      "encoding": {
        "x": {"field": "tm", "type": "temporal"},
        "y": {"field": "tip", "type": "quantitative"},
        "color": {"field": "kind", "type": "nominal", "scale": {"domain": ["blue", "purple"], "range": ["#2962ff", "#6a56c8"]}, "legend": null}
      }
    },
    {
      "data": {"name": "callouts"},
      "mark": {"type": "rect", "cornerRadius": 3},
      "encoding": {
        "x": {"field": "t1", "type": "temporal"},
        "x2": {"field": "t2"},
        "y": {"field": "p1", "type": "quantitative"},
        "y2": {"field": "p2"},
        "color": {"field": "kind", "type": "nominal", "scale": {"domain": ["blue", "purple"], "range": ["#2962ff", "#5a3fc8"]}, "legend": null}
      }
    },
    {
      "data": {"name": "callouts"},
      "mark": {"type": "text", "color": "#ffffff", "fontSize": 8, "align": "center", "baseline": "middle"},
      "encoding": {
        "x": {"field": "tm", "type": "temporal"},
        "y": {"field": "pm", "type": "quantitative"},
        "text": {"field": "label"}
      }
    },
    {
      "data": {"values": [
        {"t": "2024-10-28T06:00", "p": 74400, "label": "0.59754167664884645"},
        {"t": "2025-01-11T20:00", "p": 99600, "label": "0.8535828547642955"}
      ]},
      "mark": {"type": "text", "color": "#4a6fe0", "fontSize": 8, "align": "left", "baseline": "middle"},
      "encoding": {
        "x": {"field": "t", "type": "temporal"},
        "y": {"field": "p", "type": "quantitative"},
        "text": {"field": "label"}
      }
    },
    {
      "data": {"name": "tagboxes"},
      "mark": {"type": "rect"},
      "encoding": {
        "x": {"field": "t1", "type": "temporal"},
        "x2": {"field": "t2"},
        "y": {"field": "p1", "type": "quantitative"},
        "y2": {"field": "p2"},
        "color": {"field": "kind", "type": "nominal", "scale": {"domain": ["red", "teal", "green"], "range": ["#f4474f", "#089981", "#3fa34d"]}, "legend": null}
      }
    },
    {
      "data": {"name": "taglabels"},
      "mark": {"type": "text", "color": "#ffffff", "fontSize": 8, "align": "left", "baseline": "middle"},
      "encoding": {
        "x": {"field": "t", "type": "temporal"},
        "y": {"field": "p", "type": "quantitative"},
        "text": {"field": "label"}
      }
    },
    {
      "data": {"values": [{"t1": "2025-04-23T12:00", "t2": "2025-05-05T00:00", "p1": 121800, "p2": 120200}]},
      "mark": {"type": "rect", "color": "#ffffff", "cornerRadius": 3},
      "encoding": {
        "x": {"field": "t1", "type": "temporal"},
        "x2": {"field": "t2"},
        "y": {"field": "p1", "type": "quantitative"},
        "y2": {"field": "p2"}
      }
    },
    {
      "data": {"values": [{"t": "2025-04-24T20:00", "p": 121000, "label": "USD"}]},
      "mark": {"type": "text", "color": "#333333", "fontSize": 8, "align": "left", "baseline": "middle"},
      "encoding": {
        "x": {"field": "t", "type": "temporal"},
        "y": {"field": "p", "type": "quantitative"},
        "text": {"field": "label"}
      }
    },
    {
      "data": {"values": [{"t": "2024-10-12T08:00", "p": 121100, "label": "Bitcoin / U.S. Dollar, 4h, COINBASE"}]},
      "mark": {"type": "text", "color": "#222222", "fontSize": 8.3, "fontWeight": "bold", "align": "left", "baseline": "middle"},
      "encoding": {
        "x": {"field": "t", "type": "temporal"},
        "y": {"field": "p", "type": "quantitative"},
        "text": {"field": "label"}
      }
    },
    {
      "data": {"values": [
        {"t": "2024-10-12T08:00", "p": 120000, "label": "Jasmine Scalper (1, 25, 2.5, 25)"},
        {"t": "2024-10-12T08:00", "p": 119000, "label": "Jasmine Scalper (1, 25, 2.5, 25)"}
      ]},
      "mark": {"type": "text", "color": "#444444", "fontSize": 8.2, "align": "left", "baseline": "middle"},
      "encoding": {
        "x": {"field": "t", "type": "temporal"},
        "y": {"field": "p", "type": "quantitative"},
        "text": {"field": "label"}
      }
    },
    {
      "data": {"values": [{"t": "2025-02-25T20:00", "p": 69300}]},
      "mark": {"type": "point", "shape": "triangle-left", "filled": true, "color": "#6a3fd0", "size": 16, "opacity": 1},
      "encoding": {
        "x": {"field": "t", "type": "temporal"},
        "y": {"field": "p", "type": "quantitative"}
      }
    },
    {
      "data": {"values": [{"t": "2025-02-28T01:00", "p": 69500}, {"t": "2025-03-04T00:00", "p": 69500}]},
      "mark": {"type": "point", "shape": "circle", "fill": "#ffffff", "stroke": "#f23645", "strokeWidth": 1.2, "size": 150, "opacity": 1},
      "encoding": {
        "x": {"field": "t", "type": "temporal"},
        "y": {"field": "p", "type": "quantitative"}
      }
    },
    {
      "data": {"values": [{"t": "2025-02-27T12:00", "p": 69800}, {"t": "2025-03-03T12:00", "p": 69800}]},
      "mark": {"type": "point", "shape": "circle", "filled": true, "color": "#4d90f0", "size": 38, "opacity": 1},
      "encoding": {
        "x": {"field": "t", "type": "temporal"},
        "y": {"field": "p", "type": "quantitative"}
      }
    },
    {
      "data": {"values": [{"t": "2025-02-28T01:00", "p": 69150}, {"t": "2025-03-04T00:00", "p": 69150}]},
      "mark": {"type": "tick", "color": "#f23645", "orient": "horizontal", "size": 9, "thickness": 1.2, "opacity": 1},
      "encoding": {
        "x": {"field": "t", "type": "temporal"},
        "y": {"field": "p", "type": "quantitative"}
      }
    }
  ]
}
